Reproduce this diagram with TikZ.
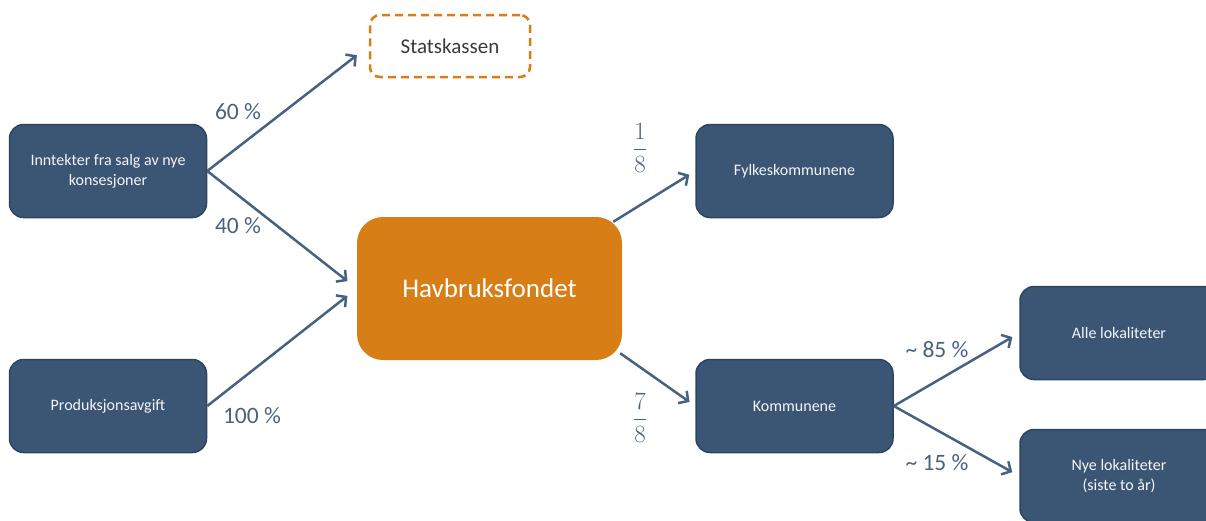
\documentclass[tikz,border=0pt]{standalone}
\usepackage[no-math]{fontspec}
\setmainfont{Carlito}
\usepackage{xcolor}
\definecolor{navy1}{HTML}{3B5674}
\definecolor{navyline}{HTML}{2D4461}
\definecolor{orange1}{HTML}{D77E17}
\definecolor{arrowblue}{HTML}{456283}
\definecolor{labelblue}{HTML}{4A6282}
\definecolor{darktext}{HTML}{3A3A3A}
\usetikzlibrary{arrows.meta,positioning,calc}

\begin{document}
\begin{tikzpicture}[
  x=1pt,y=-1pt,
  box/.style={rectangle,rounded corners=14pt,fill=navy1,draw=navyline,line width=1.5pt,
              minimum width=197pt,minimum height=93pt,align=center,
              text=white!94!navy1,font=\fontsize{16}{20}\selectfont},
  fund/.style={rectangle,rounded corners=26pt,fill=orange1,draw=none,
               minimum width=265pt,minimum height=143pt,align=center,
               text=white,font=\fontsize{27}{32}\selectfont},
  treasury/.style={rectangle,rounded corners=10pt,draw=orange1,dash pattern=on 8pt off 5pt,
                   line width=2.5pt,minimum width=160pt,minimum height=62pt,
                   text=darktext,font=\fontsize{21}{25}\selectfont},
  flow/.style={-{Straight Barb[length=7pt,width=15pt]},line width=2.5pt,color=arrowblue},
  share/.style={text=labelblue,font=\fontsize{23.5}{28}\selectfont},
  frac/.style={text=labelblue,font=\fontsize{25}{30}\selectfont},
]
  \useasboundingbox (0,0) rectangle (1206,520);

  \node[treasury] (stat) at (450,46) {Statskassen};
  \node[box] (inn) at (108,171) {Inntekter fra salg av nye\\konsesjoner};
  \node[box] (prod) at (108,406) {Produksjonsavgift};
  \node[fund] (havb) at (489.5,288.5) {Havbruksfondet};
  \node[box] (fylke) at (794.5,171) {Fylkeskommunene};
  \node[box] (komm) at (794.5,406) {Kommunene};
  \node[box,minimum width=198pt] (alle) at (1119,333) {Alle lokaliteter};
  \node[box,minimum width=198pt] (nye) at (1119,476) {Nye lokaliteter\\(siste to år)};

  \draw[flow,shorten >=15pt] (inn.east) -- (stat.west);
  \draw[flow,shorten >=12pt] (inn.east) -- (havb.west);
  \draw[flow,shorten >=12pt] (prod.east) -- (havb.west);
  \draw[flow,shorten >=7pt] ($(havb.north east)+(-9,5)$) -- (fylke.west);
  \draw[flow,shorten >=7pt] ($(havb.south east)+(-2,-7)$) -- (komm.west);
  \draw[flow,shorten >=8pt] (komm.east) -- (alle.west);
  \draw[flow,shorten >=8pt] (komm.east) -- (nye.west);

  % shares
  \node[share] (p60) at (238,112) {60 \%};
  \node[share] (p40) at (238,226) {40 \%};
  \node[share] (p100) at (252,416) {100 \%};
  \node[frac] (f18) at (640,148) {$\displaystyle\frac{1}{8}$};
  \node[frac] (f78) at (640,418) {$\displaystyle\frac{7}{8}$};
  \node[share] (p85) at (937,350) {\textasciitilde{} 85 \%};
  \node[share] (p15) at (937,463) {\textasciitilde{} 15 \%};
\end{tikzpicture}
\end{document}
